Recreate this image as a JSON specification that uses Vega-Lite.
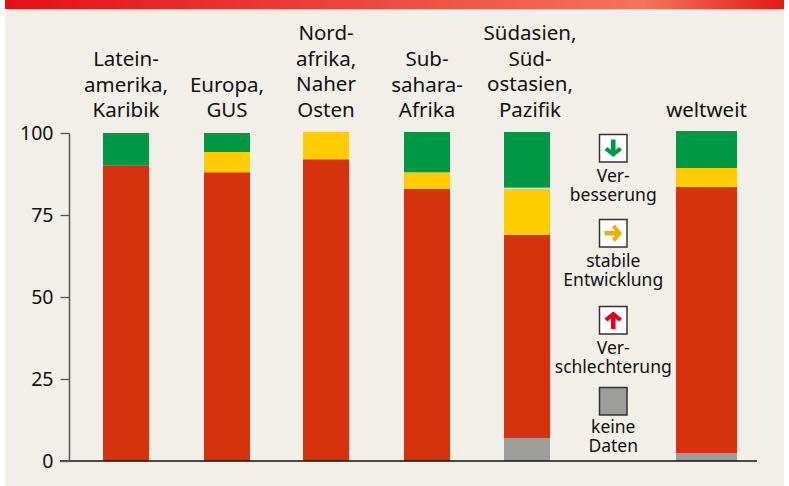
{
"$schema":"https://vega.github.io/schema/vega-lite/v6.json",
"width":789,"height":486,"padding":0,"autosize":{"type":"none"},"background":"#ffffff",
"config":{"view":{"stroke":null},"text":{"font":"Noto Sans"},"axis":{"labelFont":"Noto Sans"}},
"datasets":{
"bars":[
{"region":"Lateinamerika, Karibik","status":"Verschlechterung","rank":2,"value":90,"label":"Latein-\namerika,\nKaribik"},
{"region":"Lateinamerika, Karibik","status":"Verbesserung","rank":4,"value":10},
{"region":"Europa, GUS","status":"Verschlechterung","rank":2,"value":88,"label":"Europa,\nGUS"},
{"region":"Europa, GUS","status":"stabile Entwicklung","rank":3,"value":6.2},
{"region":"Europa, GUS","status":"Verbesserung","rank":4,"value":5.8},
{"region":"Nordafrika, Naher Osten","status":"Verschlechterung","rank":2,"value":92,"label":"Nord-\nafrika,\nNaher\nOsten"},
{"region":"Nordafrika, Naher Osten","status":"stabile Entwicklung","rank":3,"value":8.3},
{"region":"Subsahara-Afrika","status":"Verschlechterung","rank":2,"value":83,"label":"Sub-\nsahara-\nAfrika"},
{"region":"Subsahara-Afrika","status":"stabile Entwicklung","rank":3,"value":5},
{"region":"Subsahara-Afrika","status":"Verbesserung","rank":4,"value":12.3},
{"region":"Südasien, Südostasien, Pazifik","status":"keine Daten","rank":1,"value":7},
{"region":"Südasien, Südostasien, Pazifik","status":"Verschlechterung","rank":2,"value":62,"label":"Südasien,\nSüd-\nostasien,\nPazifik"},
{"region":"Südasien, Südostasien, Pazifik","status":"stabile Entwicklung","rank":3,"value":14},
{"region":"Südasien, Südostasien, Pazifik","status":"Verbesserung","rank":4,"value":17.3},
{"region":"weltweit","status":"keine Daten","rank":1,"value":2.4},
{"region":"weltweit","status":"Verschlechterung","rank":2,"value":81.1,"label":"weltweit"},
{"region":"weltweit","status":"stabile Entwicklung","rank":3,"value":5.8},
{"region":"weltweit","status":"Verbesserung","rank":4,"value":11.3}
],
"key":[
{"item":"Verbesserung","label":"Ver-\nbesserung"},
{"item":"stabile Entwicklung","label":"stabile\nEntwicklung"},
{"item":"Verschlechterung","label":"Ver-\nschlechterung"},
{"item":"keine Daten","label":"keine\nDaten"}
],
"frame":[{"part":"panel"},{"part":"band"}]
},
"resolve":{"scale":{"x":"independent","y":"independent","color":"independent"},"axis":{"x":"independent","y":"independent"}},
"layer":[
{"data":{"name":"frame"},"transform":[{"filter":"datum.part==='panel'"}],"mark":{"type":"rect","color":"#F2EFE8"},
 "encoding":{"x":{"field":"part","type":"nominal","axis":null,"scale":{"type":"band","domain":["panel"],"range":[5,784],"padding":0}},
 "y":{"field":"part","type":"nominal","axis":null,"scale":{"type":"band","domain":["panel"],"range":[9,486],"padding":0}}}},
{"data":{"name":"frame"},"transform":[{"filter":"datum.part==='band'"}],"mark":{"type":"rect","color":{"gradient":"linear","x1":0,"y1":0,"x2":1,"y2":0,"stops":[{"offset":0,"color":"#E30F17"},{"offset":0.82,"color":"#F4745A"},{"offset":1,"color":"#E41A16"}]}},
 "encoding":{"x":{"field":"part","type":"nominal","axis":null,"scale":{"type":"band","domain":["band"],"range":[5,784],"padding":0}},
 "y":{"field":"part","type":"nominal","axis":null,"scale":{"type":"band","domain":["band"],"range":[0,9],"padding":0}}}},

{"data":{"name":"bars"},"transform":[{"filter":"datum.region==='Lateinamerika, Karibik'"}],
 "encoding":{"x":{"field":"region","type":"nominal","axis":null,"scale":{"type":"band","domain":["Lateinamerika, Karibik"],"range":[103,149],"padding":0}}},
 "layer":[
 {"mark":{"type":"bar"},"encoding":{"y":{"field":"value","type":"quantitative","stack":"zero","axis":null,"scale":{"domain":[0,100],"range":[461,133],"nice":false}},"order":{"field":"rank"},
  "color":{"field":"status","type":"nominal","legend":null,"scale":{"domain":["keine Daten","Verschlechterung","stabile Entwicklung","Verbesserung"],"range":["#9D9D9C","#D5320D","#FFCC00","#009845"]}}}},
 {"transform":[{"filter":"datum.label"}],"mark":{"type":"text","fontSize":20.5,"color":"#111111","baseline":"middle","lineBreak":"\n","lineHeight":25.5,"dy":-73},
  "encoding":{"y":{"datum":100,"type":"quantitative"},"text":{"field":"label"}}}
 ]},
{"data":{"name":"bars"},"transform":[{"filter":"datum.region==='Europa, GUS'"}],
 "encoding":{"x":{"field":"region","type":"nominal","axis":null,"scale":{"type":"band","domain":["Europa, GUS"],"range":[204,250],"padding":0}}},
 "layer":[
 {"mark":{"type":"bar"},"encoding":{"y":{"field":"value","type":"quantitative","stack":"zero","axis":null,"scale":{"domain":[0,100],"range":[461,133],"nice":false}},"order":{"field":"rank"},
  "color":{"field":"status","type":"nominal","legend":null,"scale":{"domain":["keine Daten","Verschlechterung","stabile Entwicklung","Verbesserung"],"range":["#9D9D9C","#D5320D","#FFCC00","#009845"]}}}},
 {"transform":[{"filter":"datum.label"}],"mark":{"type":"text","fontSize":20.5,"color":"#111111","baseline":"middle","lineBreak":"\n","lineHeight":25.5,"dy":-47.5},
  "encoding":{"y":{"datum":100,"type":"quantitative"},"text":{"field":"label"}}}
 ]},
{"data":{"name":"bars"},"transform":[{"filter":"datum.region==='Nordafrika, Naher Osten'"}],
 "encoding":{"x":{"field":"region","type":"nominal","axis":null,"scale":{"type":"band","domain":["Nordafrika, Naher Osten"],"range":[303,349],"padding":0}}},
 "layer":[
 {"mark":{"type":"bar"},"encoding":{"y":{"field":"value","type":"quantitative","stack":"zero","axis":null,"scale":{"domain":[0,100],"range":[461,133],"nice":false}},"order":{"field":"rank"},
  "color":{"field":"status","type":"nominal","legend":null,"scale":{"domain":["keine Daten","Verschlechterung","stabile Entwicklung","Verbesserung"],"range":["#9D9D9C","#D5320D","#FFCC00","#009845"]}}}},
 {"transform":[{"filter":"datum.label"}],"mark":{"type":"text","fontSize":20.5,"color":"#111111","baseline":"middle","lineBreak":"\n","lineHeight":25.5,"dy":-99},
  "encoding":{"y":{"datum":100,"type":"quantitative"},"text":{"field":"label"}}}
 ]},
{"data":{"name":"bars"},"transform":[{"filter":"datum.region==='Subsahara-Afrika'"}],
 "encoding":{"x":{"field":"region","type":"nominal","axis":null,"scale":{"type":"band","domain":["Subsahara-Afrika"],"range":[404,450],"padding":0}}},
 "layer":[
 {"mark":{"type":"bar"},"encoding":{"y":{"field":"value","type":"quantitative","stack":"zero","axis":null,"scale":{"domain":[0,100],"range":[461,133],"nice":false}},"order":{"field":"rank"},
  "color":{"field":"status","type":"nominal","legend":null,"scale":{"domain":["keine Daten","Verschlechterung","stabile Entwicklung","Verbesserung"],"range":["#9D9D9C","#D5320D","#FFCC00","#009845"]}}}},
 {"transform":[{"filter":"datum.label"}],"mark":{"type":"text","fontSize":20.5,"color":"#111111","baseline":"middle","lineBreak":"\n","lineHeight":25.5,"dy":-73},
  "encoding":{"y":{"datum":100,"type":"quantitative"},"text":{"field":"label"}}}
 ]},
{"data":{"name":"bars"},"transform":[{"filter":"datum.region==='Südasien, Südostasien, Pazifik'"}],
 "encoding":{"x":{"field":"region","type":"nominal","axis":null,"scale":{"type":"band","domain":["Südasien, Südostasien, Pazifik"],"range":[504,550],"padding":0}}},
 "layer":[
 {"mark":{"type":"bar"},"encoding":{"y":{"field":"value","type":"quantitative","stack":"zero","axis":null,"scale":{"domain":[0,100],"range":[461,133],"nice":false}},"order":{"field":"rank"},
  "color":{"field":"status","type":"nominal","legend":null,"scale":{"domain":["keine Daten","Verschlechterung","stabile Entwicklung","Verbesserung"],"range":["#9D9D9C","#D5320D","#FFCC00","#009845"]}}}},
 {"transform":[{"filter":"datum.label"}],"mark":{"type":"bar","color":"#ffffff"},"encoding":{"y":{"datum":83,"type":"quantitative"},"y2":{"datum":83.3}}},
 {"transform":[{"filter":"datum.label"}],"mark":{"type":"text","fontSize":20.5,"color":"#111111","baseline":"middle","lineBreak":"\n","lineHeight":25.5,"dy":-99,"dx":3},
  "encoding":{"y":{"datum":100,"type":"quantitative"},"text":{"field":"label"}}}
 ]},
{"data":{"name":"bars"},"transform":[{"filter":"datum.region==='weltweit'"}],
 "encoding":{"x":{"field":"region","type":"nominal","axis":null,"scale":{"type":"band","domain":["weltweit"],"range":[676,737],"padding":0}}},
 "layer":[
 {"mark":{"type":"bar"},"encoding":{"y":{"field":"value","type":"quantitative","stack":"zero","axis":null,"scale":{"domain":[0,100],"range":[461,133],"nice":false}},"order":{"field":"rank"},
  "color":{"field":"status","type":"nominal","legend":null,"scale":{"domain":["keine Daten","Verschlechterung","stabile Entwicklung","Verbesserung"],"range":["#9D9D9C","#D5320D","#FFCC00","#009845"]}}}},
 {"transform":[{"filter":"datum.label"}],"mark":{"type":"text","fontSize":20.5,"color":"#111111","baseline":"middle","lineBreak":"\n","lineHeight":25.5,"dy":-22},
  "encoding":{"y":{"datum":100,"type":"quantitative"},"text":{"field":"label"}}}
 ]},

{"data":{"name":"key"},"transform":[{"filter":"datum.item==='Verbesserung'"}],
 "encoding":{"x":{"field":"item","type":"nominal","axis":null,"scale":{"type":"band","domain":["Verbesserung"],"range":[599.5,627],"padding":0}},
 "y":{"field":"item","type":"nominal","axis":null,"scale":{"type":"band","domain":["Verbesserung"],"range":[134.5,162],"padding":0}}},
 "layer":[
 {"mark":{"type":"rect","fill":"#ffffff","stroke":"#333333","strokeWidth":1.5}},
 {"mark":{"type":"point","filled":true,"color":"#009845","opacity":1,"size":310,"shape":"M-0.26,-1 L0.26,-1 L0.26,0.2 L0.65,-0.15 L1,0.2 L0,1 L-1,0.2 L-0.65,-0.15 L-0.26,0.2 Z"}},
 {"mark":{"type":"text","fontSize":17.5,"color":"#111111","baseline":"middle","lineBreak":"\n","lineHeight":19,"dy":29},"encoding":{"text":{"field":"label"}}}
 ]},
{"data":{"name":"key"},"transform":[{"filter":"datum.item==='stabile Entwicklung'"}],
 "encoding":{"x":{"field":"item","type":"nominal","axis":null,"scale":{"type":"band","domain":["stabile Entwicklung"],"range":[599.5,627],"padding":0}},
 "y":{"field":"item","type":"nominal","axis":null,"scale":{"type":"band","domain":["stabile Entwicklung"],"range":[219.5,247],"padding":0}}},
 "layer":[
 {"mark":{"type":"rect","fill":"#ffffff","stroke":"#333333","strokeWidth":1.5}},
 {"mark":{"type":"point","filled":true,"color":"#EDB200","opacity":1,"size":310,"shape":"M-1,-0.26 L-1,0.26 L0.2,0.26 L-0.15,0.65 L0.2,1 L1,0 L0.2,-1 L-0.15,-0.65 L0.2,-0.26 Z"}},
 {"mark":{"type":"text","fontSize":17.5,"color":"#111111","baseline":"middle","lineBreak":"\n","lineHeight":19,"dy":28.5},"encoding":{"text":{"field":"label"}}}
 ]},
{"data":{"name":"key"},"transform":[{"filter":"datum.item==='Verschlechterung'"}],
 "encoding":{"x":{"field":"item","type":"nominal","axis":null,"scale":{"type":"band","domain":["Verschlechterung"],"range":[599.5,627],"padding":0}},
 "y":{"field":"item","type":"nominal","axis":null,"scale":{"type":"band","domain":["Verschlechterung"],"range":[306.5,334],"padding":0}}},
 "layer":[
 {"mark":{"type":"rect","fill":"#ffffff","stroke":"#333333","strokeWidth":1.5}},
 {"mark":{"type":"point","filled":true,"color":"#E2001A","opacity":1,"size":310,"shape":"M-0.26,1 L0.26,1 L0.26,-0.2 L0.65,0.15 L1,-0.2 L0,-1 L-1,-0.2 L-0.65,0.15 L-0.26,-0.2 Z"}},
 {"mark":{"type":"text","fontSize":17.5,"color":"#111111","baseline":"middle","lineBreak":"\n","lineHeight":19,"dy":28.5},"encoding":{"text":{"field":"label"}}}
 ]},
{"data":{"name":"key"},"transform":[{"filter":"datum.item==='keine Daten'"}],
 "encoding":{"x":{"field":"item","type":"nominal","axis":null,"scale":{"type":"band","domain":["keine Daten"],"range":[599.5,627],"padding":0}},
 "y":{"field":"item","type":"nominal","axis":null,"scale":{"type":"band","domain":["keine Daten"],"range":[387.5,415],"padding":0}}},
 "layer":[
 {"mark":{"type":"rect","fill":"#9D9D9C","stroke":"#333333","strokeWidth":1.5}},
 {"mark":{"type":"text","fontSize":17.5,"color":"#111111","baseline":"middle","lineBreak":"\n","lineHeight":19,"dy":26.5},"encoding":{"text":{"field":"label"}}}
 ]},

{"data":{"name":"frame"},"transform":[{"filter":"datum.part==='band'"}],"mark":{"type":"rule","color":"#111111","strokeWidth":1.3},
 "encoding":{"x":{"datum":0,"type":"quantitative","axis":null,"scale":{"domain":[0,1],"range":[60,757]}},"x2":{"datum":1},
 "y":{"datum":0,"type":"quantitative","scale":{"domain":[0,100],"range":[461,133],"nice":false},
  "axis":{"orient":"left","offset":-69,"values":[0,25,50,75,100],"title":null,"grid":false,"zindex":1,"tickSize":9,"tickColor":"#555555","tickWidth":1.3,"domainColor":"#555555","domainWidth":1.5,"labelFontSize":19.5,"labelColor":"#111111","labelPadding":7,"labelFont":"Noto Sans"}}}}
]
}
